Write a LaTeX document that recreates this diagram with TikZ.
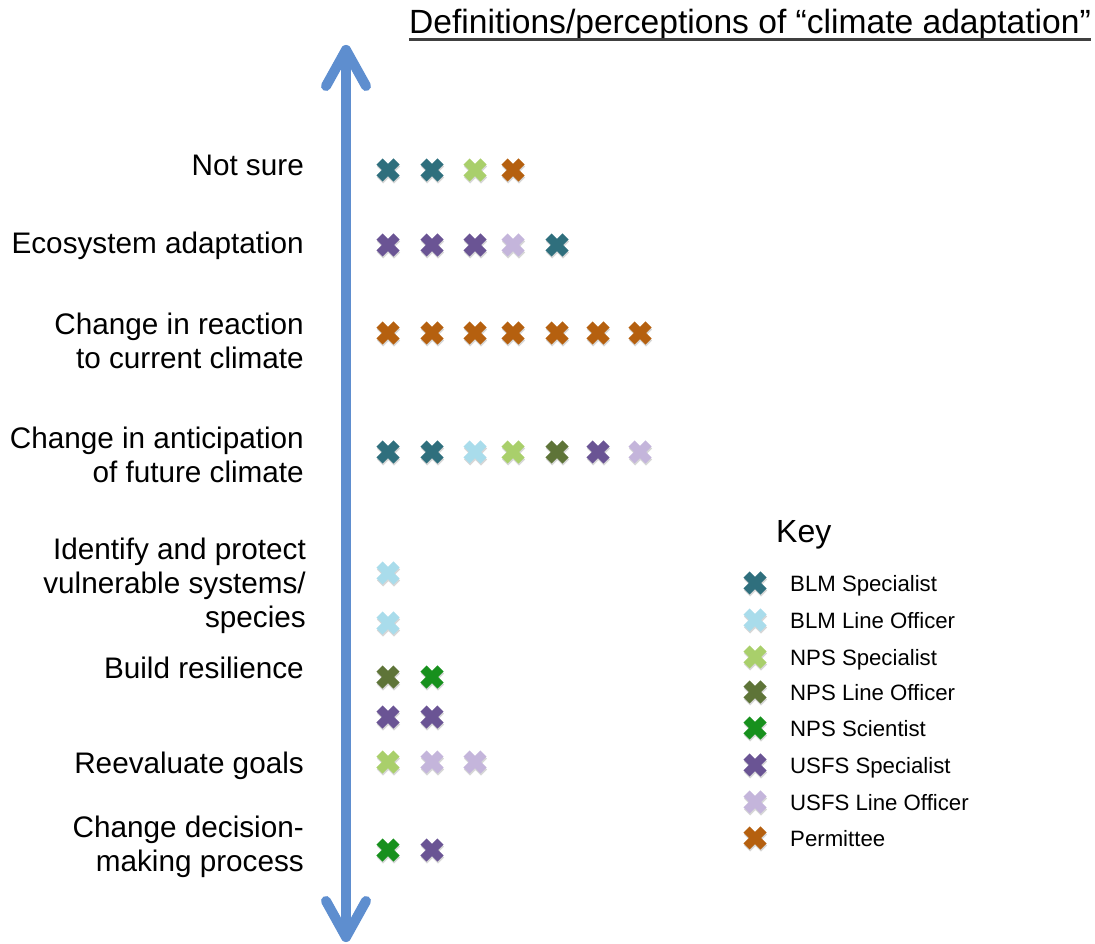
\documentclass[tikz,border=0pt]{standalone}
\usepackage{fontspec}
\setmainfont{Liberation Sans}
\definecolor{cBlmS}{HTML}{2F6F7D}
\definecolor{cBlmL}{HTML}{A9DCEB}
\definecolor{cNpsS}{HTML}{A9CF6B}
\definecolor{cNpsL}{HTML}{5E7438}
\definecolor{cNpsSci}{HTML}{17901D}
\definecolor{cUsfsS}{HTML}{6A5494}
\definecolor{cUsfsL}{HTML}{C4B5DB}
\definecolor{cPerm}{HTML}{B5600F}
\definecolor{arrowblue}{HTML}{5E8ECF}
\begin{document}
\begin{tikzpicture}[x=1pt,y=-1pt,
  lab/.style={anchor=east, align=right, font=\fontsize{29.7}{34}\selectfont, inner sep=0pt},
  keytxt/.style={anchor=base west, font=\fontsize{22.2}{26}\selectfont, inner sep=0pt},
  blmS/.style={draw=cBlmS}, blmL/.style={draw=cBlmL},
  npsS/.style={draw=cNpsS}, npsL/.style={draw=cNpsL}, npsSci/.style={draw=cNpsSci},
  usfsS/.style={draw=cUsfsS}, usfsL/.style={draw=cUsfsL}, perm/.style={draw=cPerm},
  xm/.pic={
    \draw[line width=8.8, black!45, opacity=0.35] (-8,-6.5) -- (9,10.5) (-8,10.5) -- (9,-6.5);
    \draw[line width=8.8, pic actions] (-8.5,-8.5) -- (8.5,8.5) (-8.5,8.5) -- (8.5,-8.5);
  },
  axisline/.style={line width=10, draw=arrowblue, line cap=round, line join=round}]
\useasboundingbox (0,0) rectangle (1095,944);

% title
\node[anchor=base, font=\fontsize{33.6}{38}\selectfont, inner sep=0pt] (title) at (750,34) {Definitions/perceptions of “climate adaptation”};
\draw[line width=2.5, black!75] ([yshift=-5.5pt]title.base west) -- ([yshift=-5.5pt]title.base east);

% vertical axis
\coordinate (top) at (346,50);
\coordinate (bot) at (346,937);
\draw[axisline] (top) -- (bot);
\draw[axisline] ([shift={(-20,36)}]top) -- (top) -- ([shift={(20,36)}]top);
\draw[axisline] ([shift={(-20,-36)}]bot) -- (bot) -- ([shift={(20,-36)}]bot);

% labels
\node[lab] (l1) at (304,165) {Not sure};
\node[lab] (l2) at (304,246) {Ecosystem adaptation};
\node[lab] (l3) at (304,341) {Change in reaction\\to current climate};
\node[lab] (l4) at (304,455) {Change in anticipation\\of future climate};
\node[lab] (l5) at (306,586) {Identify and protect\\vulnerable systems/\\species};
\node[lab] (l6) at (304,668) {Build resilience};
\node[lab] (l7) at (304,766) {Reevaluate goals};
\node[lab] (l8) at (304,847) {Change decision-\\making process};

% crosses
\foreach \x/\s in {388/blmS,432/blmS,475/npsS,513/perm}
  \pic[\s] at (\x,170) {xm};
\foreach \x/\s in {388/usfsS,432/usfsS,475/usfsS,513/usfsL,557/blmS}
  \pic[\s] at (\x,245) {xm};
\foreach \x in {388,432,475,513,557,598,640}
  \pic[perm] at (\x,333) {xm};
\foreach \x/\s in {388/blmS,432/blmS,475/blmL,513/npsS,557/npsL,598/usfsS,640/usfsL}
  \pic[\s] at (\x,452) {xm};
\pic[blmL] at (388,573) {xm};
\pic[blmL] at (388,623) {xm};
\pic[npsL] at (388,677) {xm};
\pic[npsSci] at (432,677) {xm};
\pic[usfsS] at (388,717) {xm};
\pic[usfsS] at (432,717) {xm};
\foreach \x/\s in {388/npsS,432/usfsL,475/usfsL}
  \pic[\s] at (\x,762) {xm};
\pic[npsSci] at (388,850) {xm};
\pic[usfsS] at (432,850) {xm};

% key
\node[anchor=base west, font=\fontsize{32}{36}\selectfont, inner sep=0pt] (key) at (776,542) {Key};
\foreach \y/\s/\t [count=\i] in {583/blmS/BLM Specialist, 620/blmL/BLM Line Officer, 657/npsS/NPS Specialist, 692/npsL/NPS Line Officer, 728/npsSci/NPS Scientist, 765/usfsS/USFS Specialist, 802/usfsL/USFS Line Officer, 838/perm/Permittee}{
  \pic[\s] at (755,\y) {xm};
  \node[keytxt] (k\i) at (790,\y+8) {\t};
}
\end{tikzpicture}
\end{document}
